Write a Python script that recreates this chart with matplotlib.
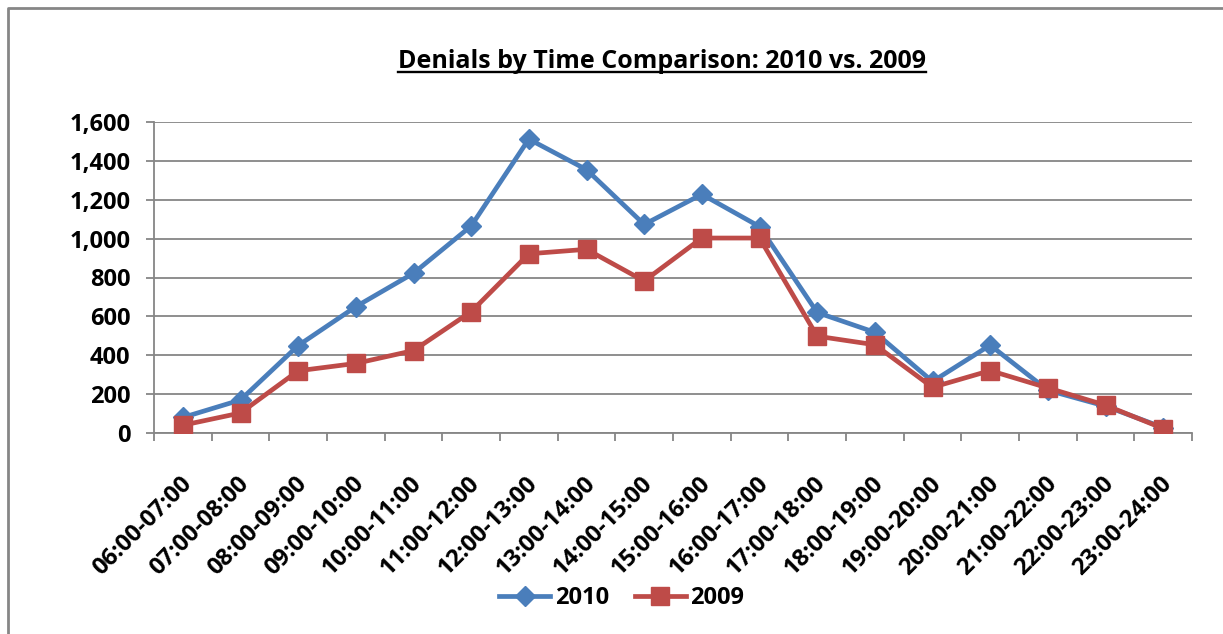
import matplotlib
matplotlib.use("Agg")
import matplotlib.pyplot as plt
from matplotlib.lines import Line2D
from matplotlib.ticker import FuncFormatter, FixedLocator
import matplotlib.transforms as mtransforms

# Hourly windows and denial counts per year
hours = ["06:00-07:00", "07:00-08:00", "08:00-09:00", "09:00-10:00", "10:00-11:00",
         "11:00-12:00", "12:00-13:00", "13:00-14:00", "14:00-15:00", "15:00-16:00",
         "16:00-17:00", "17:00-18:00", "18:00-19:00", "19:00-20:00", "20:00-21:00",
         "21:00-22:00", "22:00-23:00", "23:00-24:00"]
denials_2010 = [80, 170, 450, 650, 822, 1065, 1512, 1355, 1073, 1228,
                1062, 620, 518, 265, 452, 220, 138, 28]
denials_2009 = [40, 103, 320, 358, 424, 624, 922, 945, 782, 1003,
                1003, 498, 454, 235, 321, 232, 143, 23]
y_ticks = [0, 200, 400, 600, 800, 1000, 1200, 1400, 1600]

FONT = "Open Sans"
BLUE = "#4A7EBB"
RED = "#BE4B48"
GRID = "#868686"

fig = plt.figure(figsize=(12.23, 6.34), dpi=100)
ax = fig.add_axes([154 / 1223, 1 - 433 / 634, (1192 - 154) / 1223, (433 - 122) / 634])

x = list(range(len(hours)))
ax.plot(x, denials_2010, color=BLUE, lw=3.4, marker="D", ms=10.5,
        mec=BLUE, mfc=BLUE, label="2010", zorder=3)
ax.plot(x, denials_2009, color=RED, lw=3.4, marker="s", ms=13.5,
        mec=RED, mfc=RED, label="2009", zorder=4)

ax.set_ylim(0, 1600)
ax.set_xlim(-0.5, len(hours) - 0.5)
ax.set_yticks(y_ticks)
ax.yaxis.set_major_formatter(FuncFormatter(lambda v, p: f"{int(v):,}"))
ax.grid(axis="y", color=GRID, lw=1.3, zorder=0)
ax.set_axisbelow(True)

# Category boundaries carry tick marks; labels sit at category centres
ax.xaxis.set_major_locator(FixedLocator([i - 0.5 for i in range(len(hours) + 1)]))
ax.xaxis.set_minor_locator(FixedLocator(x))
ax.set_xticklabels([])
ax.set_xticklabels(hours, minor=True)
ax.tick_params(axis="x", which="major", length=6, width=1.3, color=GRID, direction="out")
ax.tick_params(axis="x", which="minor", length=0, pad=34)
ax.tick_params(axis="y", length=6, width=1.3, color=GRID, direction="out", pad=11)

for s in ["top", "right"]:
    ax.spines[s].set_visible(False)
for s in ["left", "bottom"]:
    ax.spines[s].set_color(GRID)
    ax.spines[s].set_linewidth(1.3)

shift = mtransforms.ScaledTranslation(5 / 100, 0, fig.dpi_scale_trans)
for lbl in ax.get_xticklabels(minor=True):
    lbl.set_rotation(45)
    lbl.set_rotation_mode("anchor")
    lbl.set_ha("right")
    lbl.set_va("center")
    lbl.set_fontfamily(FONT)
    lbl.set_fontweight("bold")
    lbl.set_fontsize(17)
    lbl.set_transform(lbl.get_transform() + shift)
for lbl in ax.get_yticklabels():
    lbl.set_fontfamily(FONT)
    lbl.set_fontweight("bold")
    lbl.set_fontsize(17)

leg = fig.legend(loc="center", bbox_to_anchor=(622 / 1223, 1 - 598 / 634), ncol=2,
                 frameon=False, handlelength=2.15, handletextpad=0.2, columnspacing=1.1,
                 prop={"family": FONT, "weight": "bold", "size": 17})

title = fig.text(662 / 1223, 1 - 61 / 634, "Denials by Time Comparison: 2010 vs. 2009",
                 ha="center", va="center", fontfamily=FONT, fontweight="bold", fontsize=18)

# Underline the title
fig.canvas.draw()
bb = title.get_window_extent().transformed(fig.transFigure.inverted())
uy = bb.y0 + 0.002
fig.add_artist(Line2D([bb.x0, bb.x1], [uy, uy], color="black", lw=1.7,
                      transform=fig.transFigure))

# Outer chart frame (top and left edges)
fig.add_artist(Line2D([8 / 1223, 8 / 1223, 1.0], [0.0, 1 - 8 / 634, 1 - 8 / 634],
                      color="#868686", lw=2.0, transform=fig.transFigure))

fig.savefig("out.png", dpi=100)
